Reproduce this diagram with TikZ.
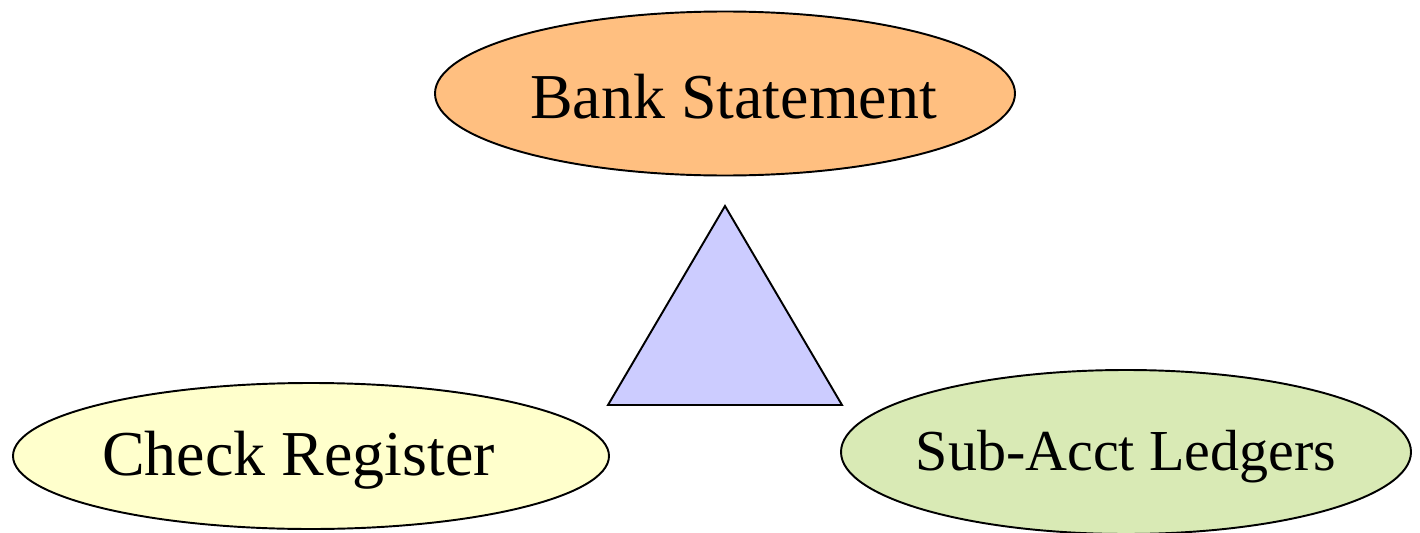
\documentclass[tikz,border=0pt]{standalone}
\usepackage{fontspec}
\setmainfont{Liberation Serif}
\usetikzlibrary{shapes.geometric}
\definecolor{bankfill}{HTML}{FFBF80}
\definecolor{checkfill}{HTML}{FFFFCC}
\definecolor{subfill}{HTML}{D9EAB5}
\definecolor{trifill}{HTML}{CCCCFF}
\tikzset{
  oval/.style={ellipse, draw=black, line width=1.1pt, inner sep=0pt},
  bigtext/.style={font=\fontsize{36.4}{40}\selectfont},
  midtext/.style={font=\fontsize{33}{37}\selectfont},
}
\begin{document}
\begin{tikzpicture}
\useasboundingbox (0,0) rectangle (28.4,10.64);
\node[oval, fill=bankfill, minimum width=11.6cm, minimum height=3.28cm,
  label={[bigtext, xshift=0.17cm, yshift=-0.06cm]center:Bank Statement}] (bank) at (14.5,8.77) {};
\node[oval, fill=checkfill, minimum width=11.92cm, minimum height=2.92cm,
  label={[bigtext, xshift=-0.25cm, yshift=-0.08cm]center:Check Register}] (check) at (6.22,1.52) {};
\node[oval, fill=subfill, minimum width=11.4cm, minimum height=3.28cm,
  label={[midtext, yshift=-0.09cm]center:Sub-Acct Ledgers}] (sub) at (22.52,1.6) {};
\draw[line width=1.1pt, fill=trifill, line join=miter] (14.5,6.52) -- (12.16,2.54) -- (16.84,2.54) -- cycle;
\end{tikzpicture}
\end{document}
